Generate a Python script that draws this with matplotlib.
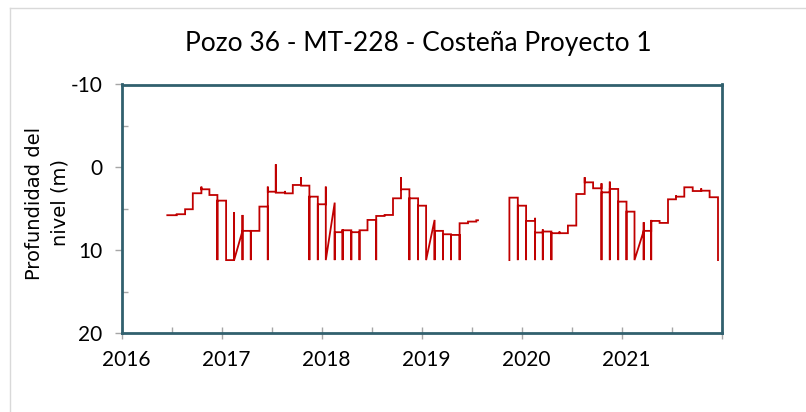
import matplotlib; matplotlib.use("Agg")
import matplotlib.pyplot as plt, numpy as np
from matplotlib.ticker import FixedLocator, NullFormatter
from matplotlib.transforms import ScaledTranslation
from matplotlib.lines import Line2D

# nivel del pozo: fecha (año decimal) y profundidad (m), leidos del grafico
# pares con la misma fecha dan los saltos verticales; 11.2 = lectura en bombeo
fecha = [2016.453, 2016.547, 2016.547, 2016.631, 2016.631, 2016.708, 2016.708, 2016.794, 2016.794, 2016.794,
         2016.874, 2016.874, 2016.954, 2016.954, 2016.954, 2017.041, 2017.041, 2017.121, 2017.121, 2017.121,
         2017.205, 2017.205, 2017.205, 2017.205, 2017.288, 2017.288, 2017.288, 2017.374, 2017.374, 2017.458,
         2017.458, 2017.458, 2017.458, 2017.538, 2017.538, 2017.538, 2017.631, 2017.631, 2017.631, 2017.708,
         2017.708, 2017.791, 2017.791, 2017.791, 2017.874, 2017.874, 2017.874, 2017.958, 2017.958, 2017.958,
         2018.038, 2018.038, 2018.038, 2018.127, 2018.127, 2018.127, 2018.206, 2018.206, 2018.206, 2018.206,
         2018.293, 2018.293, 2018.293, 2018.375, 2018.375, 2018.375, 2018.455, 2018.455, 2018.542, 2018.542,
         2018.542, 2018.626, 2018.626, 2018.710, 2018.710, 2018.790, 2018.790, 2018.790, 2018.874, 2018.874,
         2018.874, 2018.961, 2018.961, 2018.961, 2019.041, 2019.041, 2019.126, 2019.126, 2019.126, 2019.210,
         2019.210, 2019.210, 2019.290, 2019.290, 2019.290, 2019.376, 2019.376, 2019.376, 2019.460, 2019.460,
         2019.543, 2019.543, 2019.560,
         np.nan,
         2019.874, 2019.874, 2019.958, 2019.958, 2019.958, 2020.041, 2020.041, 2020.041, 2020.131, 2020.131,
         2020.131, 2020.131, 2020.208, 2020.208, 2020.208, 2020.208, 2020.294, 2020.294, 2020.294, 2020.375,
         2020.375, 2020.375, 2020.459, 2020.459, 2020.543, 2020.543, 2020.627, 2020.627, 2020.627, 2020.711,
         2020.711, 2020.795, 2020.795, 2020.795, 2020.795, 2020.878, 2020.878, 2020.878, 2020.878, 2020.962,
         2020.962, 2020.962, 2021.045, 2021.045, 2021.045, 2021.125, 2021.125, 2021.217, 2021.217, 2021.217,
         2021.217, 2021.292, 2021.292, 2021.292, 2021.292, 2021.376, 2021.376, 2021.460, 2021.460, 2021.540,
         2021.540, 2021.540, 2021.623, 2021.623, 2021.707, 2021.707, 2021.792, 2021.792, 2021.792, 2021.876,
         2021.876, 2021.960, 2021.960]
prof = [5.78, 5.78, 5.66, 5.66, 5.06, 5.06, 3.13, 3.13, 2.33, 2.65,
        2.65, 3.34, 3.34, 11.2, 4.02, 4.02, 11.2, 11.2, 5.42, 11.2,
        7.67, 5.75, 11.2, 7.67, 7.67, 11.2, 7.67, 7.67, 4.74, 4.74,
        11.2, 2.33, 2.94, 2.94, -0.36, 3.06, 3.06, 2.85, 3.14, 3.14,
        2.13, 2.13, 1.20, 2.21, 2.21, 11.2, 3.54, 3.54, 11.2, 4.46,
        4.46, 2.33, 11.2, 4.26, 11.2, 7.83, 7.83, 7.50, 11.2, 7.60,
        7.60, 11.2, 7.83, 7.83, 11.2, 7.60, 7.60, 6.35, 6.35, 11.2,
        5.87, 5.87, 5.75, 5.75, 3.74, 3.74, 1.20, 2.65, 2.65, 11.2,
        3.74, 3.74, 11.2, 4.63, 4.63, 11.2, 6.35, 11.2, 7.67, 7.67,
        11.2, 8.08, 8.08, 11.2, 8.16, 8.16, 11.2, 6.75, 6.75, 6.55,
        6.55, 6.39, 6.39,
        np.nan,
        11.2, 3.66, 3.66, 11.2, 4.63, 4.63, 11.2, 6.47, 6.47, 6.10,
        11.2, 7.87, 7.87, 7.50, 11.2, 7.75, 7.75, 11.2, 7.95, 7.95,
        7.75, 7.95, 7.95, 7.03, 7.03, 3.22, 3.22, 1.20, 1.81, 1.81,
        2.53, 2.53, 1.93, 11.2, 3.02, 3.02, 1.73, 11.2, 2.61, 2.61,
        11.2, 4.14, 4.14, 11.2, 5.35, 5.35, 11.2, 7.67, 6.63, 11.2,
        7.67, 7.67, 6.35, 11.2, 6.47, 6.47, 6.71, 6.71, 3.86, 3.86,
        3.40, 3.54, 3.54, 2.41, 2.41, 2.86, 2.86, 2.55, 2.82, 2.82,
        3.61, 3.61, 11.2]

anios = [2016, 2017, 2018, 2019, 2020, 2021, 2022]
anio_labels = ["2016", "2017", "2018", "2019", "2020", "2021", ""]
medios = [2016.5, 2017.5, 2018.5, 2019.5, 2020.5, 2021.5]
y_major = [-10, 0, 10, 20]
y_minor = [-5, 5, 15]
titulo = "Pozo 36 - MT-228 - Costeña Proyecto 1"

W, H = 806, 412
fig = plt.figure(figsize=(W/100, H/100), dpi=100)
ax = fig.add_axes([122/W, 1-333/H, 600/W, 248.5/H])

# marco exterior del area del grafico
fig.add_artist(Line2D([10/W, 1], [1-7.5/H, 1-7.5/H], color="#d9d9d9", lw=1.0))
fig.add_artist(Line2D([10/W, 10/W], [0, 1-7.5/H], color="#d9d9d9", lw=1.0))

ax.plot(fecha, prof, color="#c00000", lw=1.3, solid_joinstyle="miter")

ax.set_xlim(2016, 2022); ax.set_ylim(20, -10)
ax.xaxis.set_major_locator(FixedLocator(anios)); ax.set_xticklabels(anio_labels)
ax.xaxis.set_minor_locator(FixedLocator(medios)); ax.xaxis.set_minor_formatter(NullFormatter())
ax.yaxis.set_major_locator(FixedLocator(y_major)); ax.set_yticklabels([str(v) for v in y_major])
ax.yaxis.set_minor_locator(FixedLocator(y_minor)); ax.yaxis.set_minor_formatter(NullFormatter())

tc = "#a6a6a6"
ax.tick_params(axis="x", which="major", direction="inout", length=8, width=1, color=tc, pad=8,
               labelsize=15, labelcolor="#000000")
ax.tick_params(axis="x", which="minor", direction="in", length=4, width=1, color=tc)
ax.tick_params(axis="y", which="major", direction="out", length=5, width=1, color=tc, pad=9,
               labelsize=15, labelcolor="#000000")
ax.tick_params(axis="y", which="minor", direction="in", length=4, width=1, color=tc)
for lab in ax.get_xticklabels() + ax.get_yticklabels():
    lab.set_family("Lato")
off = ScaledTranslation(4/100, 0, fig.dpi_scale_trans)
for lab in ax.get_xticklabels():
    lab.set_transform(lab.get_transform() + off)

for sp in ax.spines.values():
    sp.set_color("#31606e"); sp.set_linewidth(2.0)

fig.text(418/W, 1-43/H, titulo, ha="center", va="center", fontsize=19, family="Lato", color="#000000")
fig.text(47.5/W, 1-203/H, "Profundidad del\nnivel (m)", rotation=90, ha="center", va="center",
         multialignment="center", fontsize=14, family="DejaVu Sans", linespacing=1.45, color="#000000")

fig.savefig("out.png", dpi=100)
